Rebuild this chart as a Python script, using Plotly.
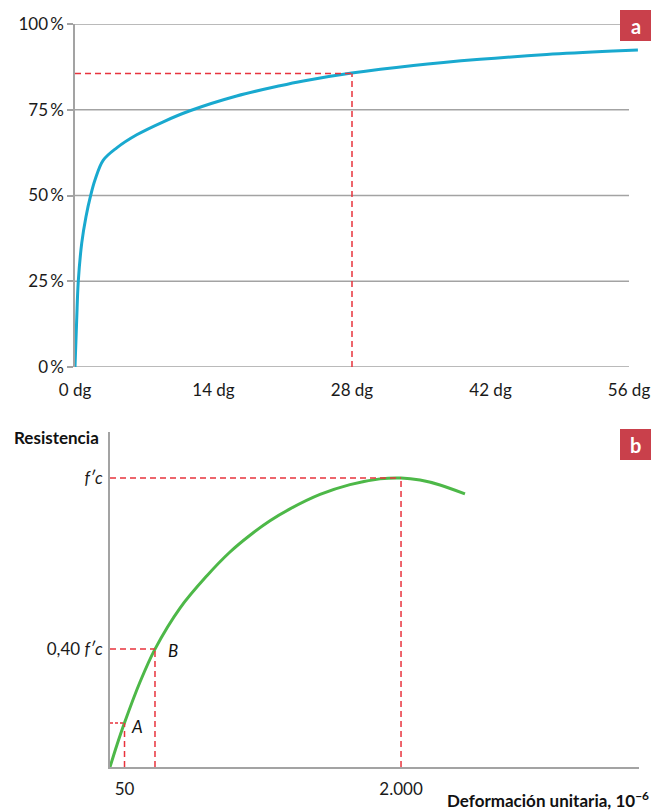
import plotly.graph_objects as go

# ---------- Chart a: strength gain vs age ----------
age_dg = [0, 0.17, 0.33, 0.68, 1.11, 1.59, 2.02, 2.86, 4.22, 6.24, 8.93, 11.62, 16.34, 20.72, 23.08, 27.97, 34.2, 40.94, 47.68, 54.41, 56.9]
strength_pct = [0, 13.7, 24.9, 36.1, 43.8, 50.1, 54.5, 60.3, 63.9, 67.7, 71.5, 74.7, 79.0, 82.0, 83.4, 85.7, 87.9, 89.7, 91.1, 92.1, 92.4]
a_xticks = [0, 14, 28, 42, 56]
a_xlabels = ["0 dg", "14 dg", "28 dg", "42 dg", "56 dg"]
a_yticks = [0, 25, 50, 75, 100]
a_ylabels = ["0\u2009%", "25\u2009%", "50\u2009%", "75\u2009%", "100\u2009%"]
a_mark_x = 28
a_mark_y = 85.6

# ---------- Chart b: stress-strain ----------
strain = [-52.3, -2.9, 50, 159.3, 265, 441.4, 629.7, 793.9, 935, 1076, 1217, 1429, 1640, 1852, 2000, 2134, 2275, 2451]
resist = [0, 0.077, 0.153, 0.294, 0.408, 0.550, 0.661, 0.744, 0.802, 0.852, 0.893, 0.943, 0.977, 0.997, 1.0, 0.993, 0.976, 0.945]
b_xticks = [50, 2000]
b_xlabels = ["50", "2.000"]
b_yticks = [0.408, 1.0]
b_ylabels = ["0,40 <i>f′c</i>", "<i>f′c</i>"]
pt_A = (50, 0.152)
pt_B = (265, 0.408)
pt_peak = (2000, 1.0)

W, H = 662, 812
GREY = "#a3a3a3"
RED = "#e8333d"
FONT = "Lato"

def fx(px):
    return px / W

def fy(py):
    return 1 - py / H

fig = go.Figure()
fig.add_trace(go.Scatter(x=age_dg, y=strength_pct, mode="lines",
                         line=dict(color="#19a9cf", width=3, shape="spline", smoothing=1.0),
                         xaxis="x", yaxis="y", showlegend=False, hoverinfo="skip"))
fig.add_trace(go.Scatter(x=strain, y=resist, mode="lines",
                         line=dict(color="#4db848", width=3, shape="spline", smoothing=1.0),
                         xaxis="x2", yaxis="y2", showlegend=False, hoverinfo="skip"))

shapes = []
# gridlines chart a
for v in a_yticks:
    shapes.append(dict(type="line", xref="x", yref="y", x0=0, x1=56, y0=v, y1=v,
                       line=dict(color=GREY, width=1.5), layer="below"))
# red dashes chart a
shapes.append(dict(type="line", xref="x", yref="y", x0=0, x1=a_mark_x, y0=a_mark_y, y1=a_mark_y,
                   line=dict(color=RED, width=1.5, dash="6px,4px")))
shapes.append(dict(type="line", xref="x", yref="y", x0=a_mark_x, x1=a_mark_x, y0=0, y1=a_mark_y,
                   line=dict(color=RED, width=1.5, dash="6px,4px")))
# red dashes chart b
x_left = strain[0]
for (px_, py_), d in [(pt_peak, "6px,4px"), (pt_B, "6px,4px"), (pt_A, "3px,2px")]:
    shapes.append(dict(type="line", xref="x2", yref="y2", x0=x_left, x1=px_, y0=py_, y1=py_,
                       line=dict(color=RED, width=1.5, dash=d)))
    shapes.append(dict(type="line", xref="x2", yref="y2", x0=px_, x1=px_, y0=0, y1=py_,
                       line=dict(color=RED, width=1.5, dash="6px,4px")))
# badges
shapes.append(dict(type="rect", xref="paper", yref="paper", x0=fx(620), x1=fx(651), y0=fy(41), y1=fy(10),
                   fillcolor="#c9404b", line=dict(width=0)))
shapes.append(dict(type="rect", xref="paper", yref="paper", x0=fx(620), x1=fx(651), y0=fy(460), y1=fy(429),
                   fillcolor="#c9404b", line=dict(width=0)))

annotations = [
    dict(text="<b>a</b>", x=fx(635.5), y=fy(25.5), xref="paper", yref="paper", showarrow=False,
         font=dict(family=FONT, size=20, color="white"), xanchor="center", yanchor="middle"),
    dict(text="<b>b</b>", x=fx(635.5), y=fy(444.5), xref="paper", yref="paper", showarrow=False,
         font=dict(family=FONT, size=20, color="white"), xanchor="center", yanchor="middle"),
    dict(text="<b>Resistencia</b>", x=fx(12), y=fy(438), xref="paper", yref="paper", showarrow=False,
         font=dict(family=FONT, size=17, color="#111"), xanchor="left", yanchor="middle"),
    dict(text="<b>Deformación unitaria, 10<sup>−6</sup></b>", x=fx(651), y=fy(799), xref="paper", yref="paper",
         showarrow=False, font=dict(family=FONT, size=17, color="#111"), xanchor="right", yanchor="middle"),
    dict(text="<i>A</i>", x=fx(137), y=fy(726), xref="paper", yref="paper", showarrow=False,
         font=dict(family=FONT, size=17, color="#111"), xanchor="center", yanchor="middle"),
    dict(text="<i>B</i>", x=fx(173), y=fy(650), xref="paper", yref="paper", showarrow=False,
         font=dict(family=FONT, size=17, color="#111"), xanchor="center", yanchor="middle"),
]

tickfont = dict(family=FONT, size=17, color="#1a1a1a")
fig.update_layout(
    width=W, height=H, margin=dict(l=0, r=0, t=0, b=0),
    paper_bgcolor="white", plot_bgcolor="white", showlegend=False,
    xaxis=dict(domain=[fx(75), fx(640)], range=[0, 565 / 9.893], tickvals=a_xticks, ticktext=a_xlabels,
               showgrid=False, zeroline=False, showline=False, ticks="", tickfont=tickfont,
               ticklabelstandoff=11, anchor="y", fixedrange=True, automargin=False),
    yaxis=dict(domain=[fy(367), fy(24)], range=[0, 100], tickvals=a_yticks, ticktext=a_ylabels,
               showgrid=False, zeroline=False, showline=True, linecolor=GREY, linewidth=1.5,
               ticks="outside", ticklen=6, tickcolor=GREY, tickwidth=1.5, tickfont=tickfont,
               anchor="x", fixedrange=True, automargin=False),
    xaxis2=dict(domain=[fx(110), fx(639)], range=[x_left, 50 + (639 - 124.5) * 7.052],
                tickvals=b_xticks, ticktext=b_xlabels, showgrid=False, zeroline=False,
                showline=True, linecolor=GREY, linewidth=1.5, ticks="", tickfont=tickfont,
                ticklabelstandoff=6, anchor="y2", fixedrange=True, automargin=False),
    yaxis2=dict(domain=[fy(767), fy(432)], range=[0, (767 - 432) / 289], tickvals=b_yticks, ticktext=b_ylabels,
                showgrid=False, zeroline=False, showline=True, linecolor=GREY, linewidth=1.5,
                ticks="", tickfont=tickfont, ticklabelstandoff=2, anchor="x2", fixedrange=True,
                automargin=False),
    shapes=shapes, annotations=annotations,
)

fig.write_html("out.html", config={"displayModeBar": False},
               post_script="document.body.style.margin='0';document.body.style.padding='0';")
